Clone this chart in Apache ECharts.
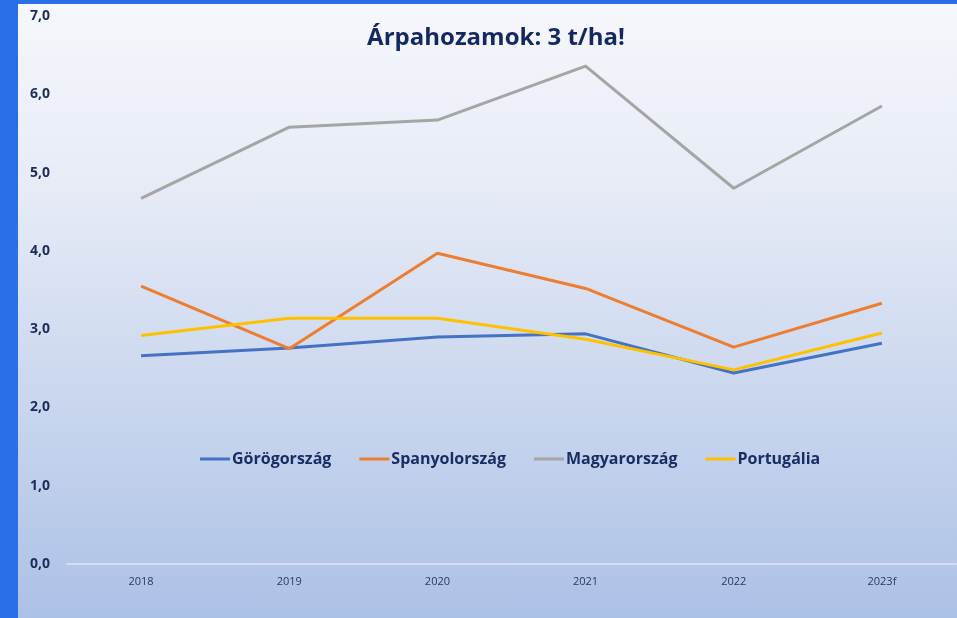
<!DOCTYPE html>
<html>
<head>
<meta charset="utf-8">
<script src="https://cdn.jsdelivr.net/npm/echarts@6/dist/echarts.min.js"></script>
<style>
html,body{margin:0;padding:0;width:957px;height:618px;overflow:hidden;background:#2b6fe8;}
#bg{position:absolute;left:18px;top:4px;width:939px;height:614px;background:linear-gradient(to bottom,#f6f7fc 0%,#e6ebf6 30%,#c9d6ee 65%,#acc1e6 100%);}
#chart{position:absolute;left:0;top:0;width:957px;height:618px;}
</style>
</head>
<body>
<div id="bg"></div>
<div id="chart"></div>
<script>
const categories = ['2018','2019','2020','2021','2022','2023f'];
const greece   = [2.66, 2.76, 2.90, 2.94, 2.44, 2.82];
const spain    = [3.55, 2.75, 3.97, 3.52, 2.77, 3.33];
const hungary  = [4.67, 5.58, 5.67, 6.36, 4.80, 5.85];
const portugal = [2.92, 3.14, 3.14, 2.87, 2.48, 2.95];
const seriesNames = ['Görögország','Spanyolország','Magyarország','Portugália'];
const yTicks = [0,1,2,3,4,5,6,7];

const colors = ['#4472c4','#ed7d31','#a5a5a5','#ffc000'];
const chart = echarts.init(document.getElementById('chart'), null, {renderer:'canvas'});
const font = '"Open Sans", "Noto Sans", sans-serif';
function mk(name, data, i){
  return {name:name, type:'line', data:data, symbol:'none', smooth:false,
    lineStyle:{width:3, color:colors[i]}, itemStyle:{color:colors[i]}, z: 2};
}
chart.setOption({
  animation:false,
  title:{text:'Árpahozamok: 3 t/ha!', left:491, top:21, textAlign:'center',
    textStyle:{fontFamily:font, fontSize:24, fontWeight:'bold', color:'#13285f'}},
  legend:{data:seriesNames, left:200, top:451, itemWidth:30, itemHeight:3, itemGap:28,
    icon:'rect', padding:0,
    textStyle:{fontFamily:font, fontSize:16, fontWeight:'bold', color:'#1a2d63', padding:[0,0,0,-3]}},
  grid:{left:67, right:1, top:16, bottom:54},
  xAxis:{type:'category', data:categories, boundaryGap:true,
    axisLine:{show:true, lineStyle:{color:'#d3def2', width:2}},
    axisTick:{show:false},
    axisLabel:{fontFamily:font, fontSize:11, color:'#2a3a62', margin:12}},
  yAxis:{type:'value', min:0, max:7, interval:1,
    axisLine:{show:false}, axisTick:{show:false}, splitLine:{show:false},
    axisLabel:{fontFamily:font, fontSize:14, fontWeight:'bold', color:'#1d2b58', align:'left', margin:37,
      formatter:function(v){return yTicks.indexOf(v)>=0 ? v.toFixed(1).replace('.',',') : '';}}},
  series:[mk(seriesNames[0],greece,0), mk(seriesNames[1],spain,1), mk(seriesNames[2],hungary,2), mk(seriesNames[3],portugal,3)]
});
</script>
</body>
</html>
